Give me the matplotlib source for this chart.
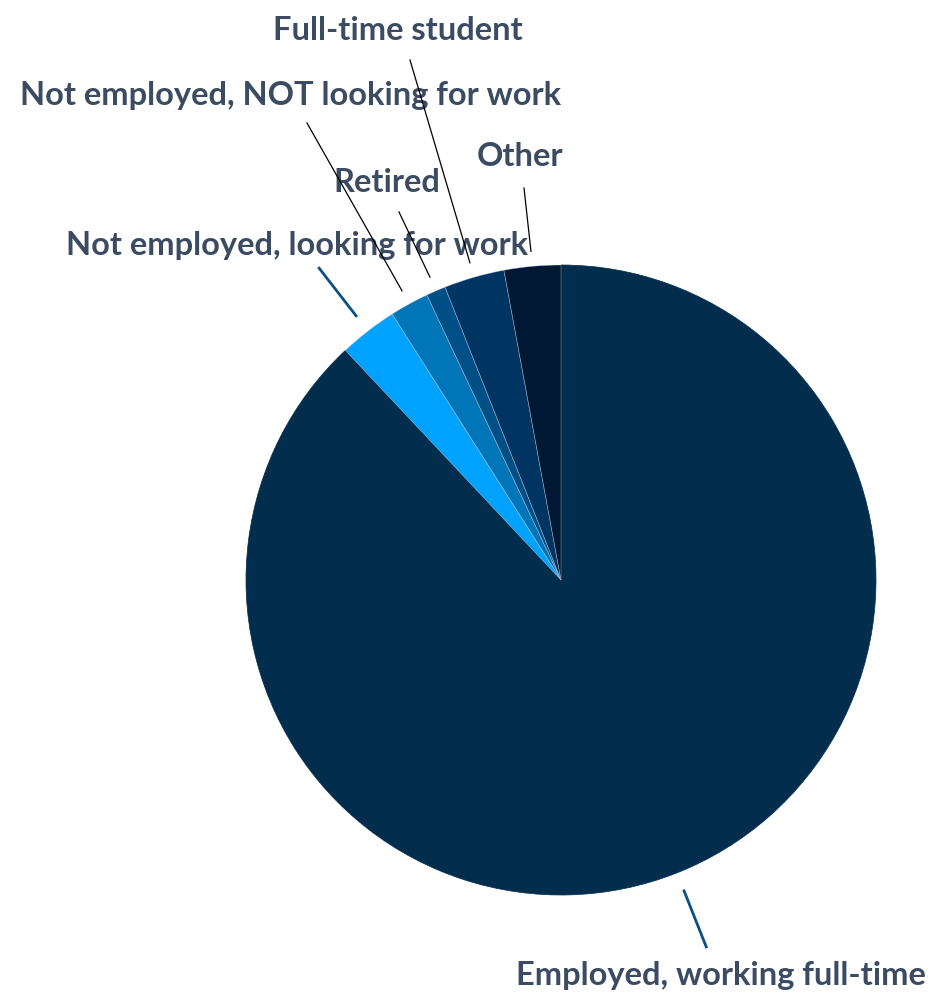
import numpy as np
import matplotlib
matplotlib.use("Agg")
import matplotlib.pyplot as plt

# Employment status shares (%), in drawing order (clockwise from 12 o'clock)
categories = [
    "Employed, working full-time",
    "Not employed, looking for work",
    "Not employed, NOT looking for work",
    "Retired",
    "Full-time student",
    "Other",
]
shares = [88.0, 3.0, 2.0, 1.0, 3.1, 2.9]
colors = ["#022d4d", "#00a2ff", "#0075b8", "#004f87", "#003463", "#001833"]

W, H = 931, 1000
fig = plt.figure(figsize=(W / 100, H / 100), dpi=100)
ax = fig.add_axes([0, 0, 1, 1])

cx, cy, R = 561, H - 580, 315
wedges, _ = ax.pie(
    shares, colors=colors, startangle=90, counterclock=False,
    center=(cx, cy), radius=R, frame=True,
    wedgeprops=dict(edgecolor=(0.75, 0.82, 0.9, 0.5), linewidth=0.5),
)
# the large slice has no separating outline
wedges[0].set_edgecolor(colors[0])
wedges[0].set_zorder(0.5)
ax.set_xlim(0, W)
ax.set_ylim(0, H)
ax.set_aspect("equal")
ax.axis("off")

text_color = "#3b4b61"
font = dict(family=["Lato", "DejaVu Sans"], fontsize=23.5, fontweight="bold", color=text_color)


def mid_dir(w):
    a = np.deg2rad((w.theta1 + w.theta2) / 2)
    return np.cos(a), np.sin(a)


# Labels with a short coloured leader along the slice's mid-angle
short_leaders = {
    0: dict(text_xy=(721, H - 975)),
    1: dict(text_xy=(297, H - 245)),
}
for i, spec in short_leaders.items():
    dx, dy = mid_dir(wedges[i])
    ax.plot([cx + dx * 333, cx + dx * 396], [cy + dy * 333, cy + dy * 396],
            color="#0b4f85", lw=2, solid_capstyle="butt")
    ax.text(*spec["text_xy"], categories[i], ha="center", va="center", **font)

# Labels placed away from the pie with thin black leaders
far_labels = {
    2: dict(text_xy=(290, H - 95), end=(307, H - 123)),
    3: dict(text_xy=(387, H - 182), end=(399, H - 212)),
    4: dict(text_xy=(398, H - 30), end=(410, H - 60)),
    5: dict(text_xy=(520, H - 157), end=(524, H - 188)),
}
for i, spec in far_labels.items():
    dx, dy = mid_dir(wedges[i])
    sx, sy = cx + dx * 330, cy + dy * 330
    ex, ey = spec["end"]
    ax.plot([sx, ex], [sy, ey], color="black", lw=0.9, zorder=5)
    ax.text(*spec["text_xy"], categories[i], ha="center", va="center", zorder=4, **font)

fig.savefig("out.png", dpi=100, facecolor="white")
